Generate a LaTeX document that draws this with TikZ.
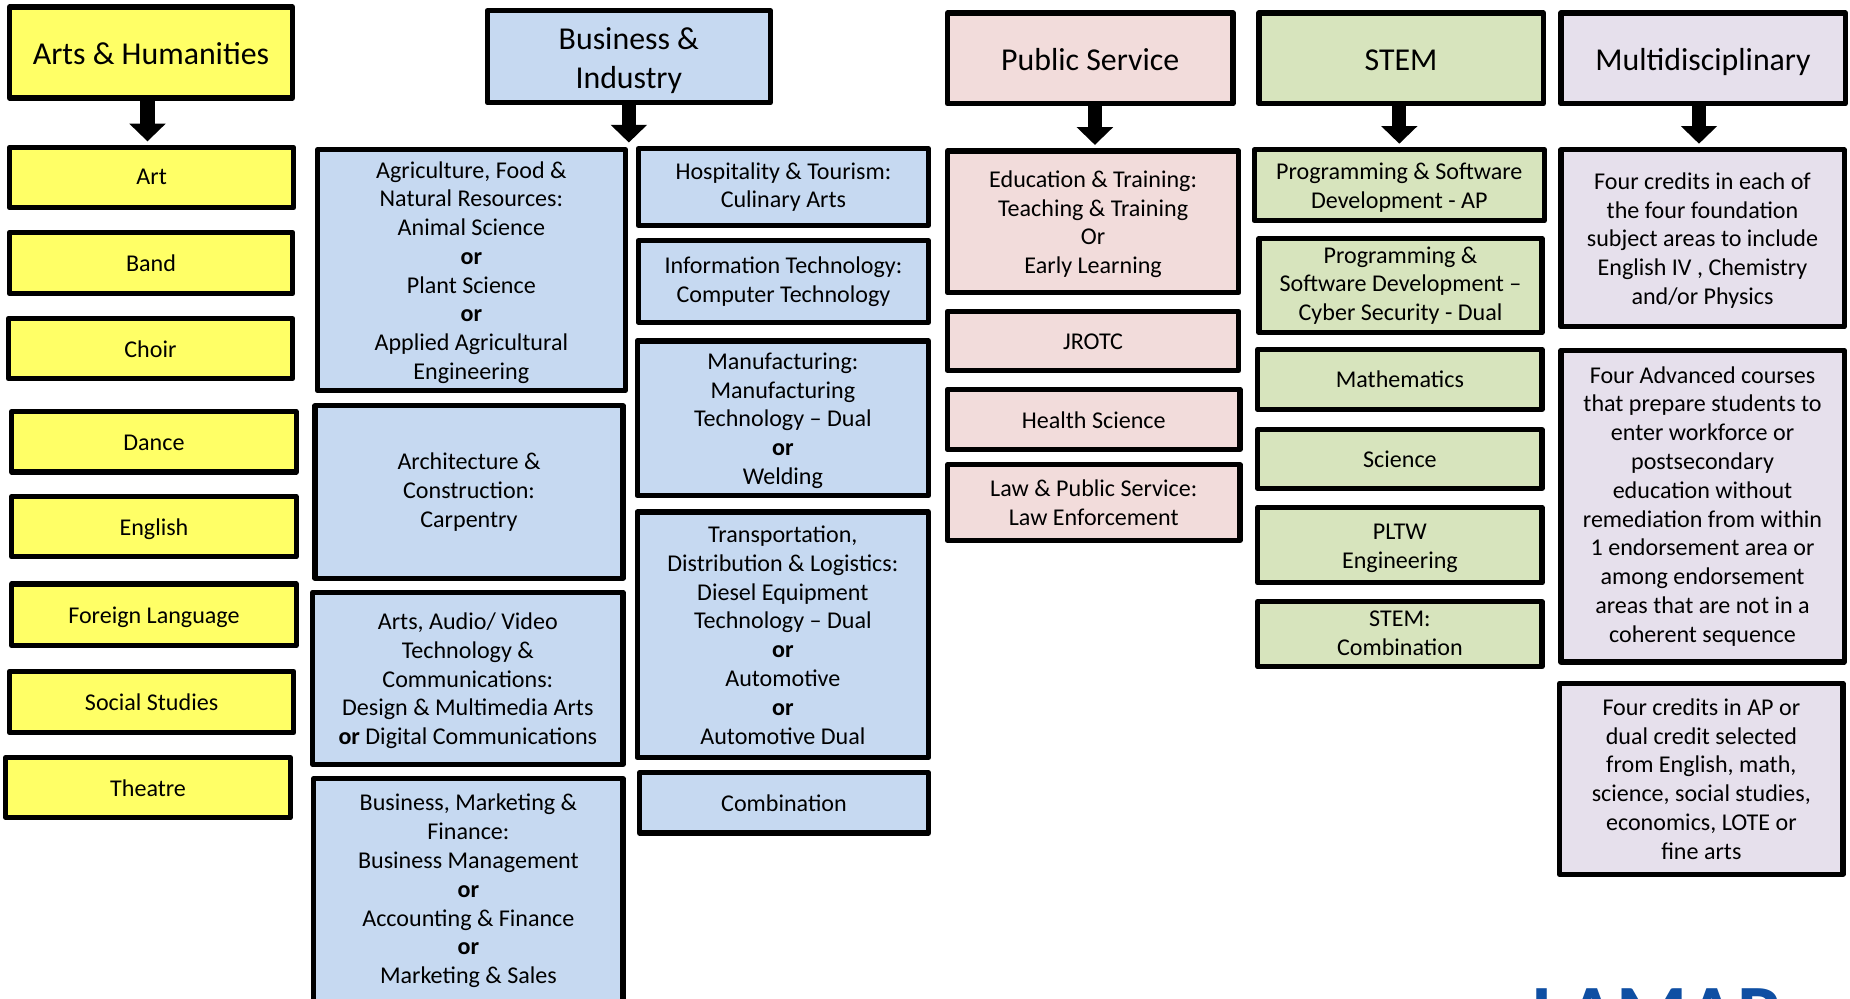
\documentclass[tikz,border=0pt]{standalone}
\usepackage{fontspec}
\setmainfont{Carlito}
\usetikzlibrary{arrows.meta,calc}
\definecolor{cy}{HTML}{FFFF66}
\definecolor{cb}{HTML}{C6D9F1}
\definecolor{cp}{HTML}{F2DCDB}
\definecolor{cg}{HTML}{D7E4BD}
\definecolor{cv}{HTML}{E6E0EC}
\definecolor{logoblue}{HTML}{0F4FA3}
\tikzset{
  bx/.style={draw=black,line width=4.4pt,line join=round,inner sep=0pt,text=black,font=\fontsize{20.4}{24.4}\selectfont\def\bxshift{-2.4pt}},
  hd/.style={font=\fontsize{27}{33}\selectfont\def\bxshift{-3.8pt}},
  low/.style={font=\fontsize{20.4}{24.4}\selectfont\def\bxshift{-0.6pt}},
  bigarrow/.style={line width=12pt,draw=black,-{Triangle[width=30pt,length=15pt]},shorten >=3pt}
}
\newcommand{\bx}[8][]{%
  \pgfmathsetmacro{\bxw}{#6-#4}\pgfmathsetmacro{\bxh}{#7-#5}%
  \pgfmathsetmacro{\bxcx}{(#4+#6)/2}\pgfmathsetmacro{\bxcy}{(#5+#7)/2}%
  \node[bx,#1,fill=#3,minimum width=\bxw pt,minimum height=\bxh pt] (#2) at (\bxcx,\bxcy)
    {\raisebox{\bxshift}[\height][\depth]{\begin{tabular}{@{}c@{}}#8\end{tabular}}};}
\newcommand{\bor}{\textbf{or}}
\begin{document}
\begin{tikzpicture}[x=1pt,y=-1pt]
\clip (0,0) rectangle (1568,846);
% Arts & Humanities
\bx[hd]{artsh}{cy}{8}{6}{248}{83}{Arts \& Humanities}
\bx[low]{art}{cy}{8}{125}{249}{176}{Art}
\bx{band}{cy}{8}{197}{248}{249}{Band}
\bx{choir}{cy}{7}{270}{248}{321}{Choir}
\bx{dance}{cy}{10}{349}{251}{400}{Dance}
\bx{english}{cy}{10}{421}{251}{472}{English}
\bx{foreign}{cy}{10}{495}{251}{547}{Foreign Language}
\bx{social}{cy}{8}{569}{249}{621}{Social Studies}
\bx{theatre}{cy}{5}{642}{246}{693}{Theatre}
% Business & Industry
\bx[hd]{bush}{cb}{413}{9}{653}{87}{Business \&\\Industry}
\bx{agri}{cb}{269}{127}{530}{331}{Agriculture, Food \&\\Natural Resources:\\Animal Science\\\bor\\Plant Science\\\bor\\Applied Agricultural\\Engineering}
\bx[low]{arch}{cb}{267}{344}{528}{490}{Architecture \&\\Construction:\\Carpentry}
\bx{av}{cb}{265}{502}{528}{648}{Arts, Audio/ Video\\Technology \&\\Communications:\\Design \& Multimedia Arts\\\bor{} Digital Communications}
\bx[low]{bmf}{cb}{266}{660}{528}{850}{Business, Marketing \&\\Finance:\\Business Management\\\bor\\Accounting \& Finance\\\bor\\Marketing \& Sales}
\bx[low]{hosp}{cb}{541}{126}{787}{191}{Hospitality \& Tourism:\\Culinary Arts}
\bx[low]{it}{cb}{541}{204}{787}{273}{Information Technology:\\Computer Technology}
\bx{manu}{cb}{540}{289}{787}{420}{Manufacturing:\\Manufacturing\\Technology – Dual\\\bor\\Welding}
\bx{trans}{cb}{540}{434}{787}{642}{Transportation,\\Distribution \& Logistics:\\Diesel Equipment\\Technology – Dual\\\bor\\Automotive\\\bor\\Automotive Dual}
\bx{combo}{cb}{542}{655}{787}{706}{Combination}
% Public Service
\bx[hd]{pubh}{cp}{803}{11}{1045}{88}{Public Service}
\bx{edu}{cp}{803}{128}{1050}{248}{Education \& Training:\\Teaching \& Training\\Or\\Early Learning}
\bx{jrotc}{cp}{803}{264}{1050}{314}{JROTC}
\bx{health}{cp}{803}{330}{1051}{381}{Health Science}
\bx{law}{cp}{803}{394}{1051}{458}{Law \& Public Service:\\Law Enforcement}
% STEM
\bx[hd]{stemh}{cg}{1067}{11}{1308}{88}{STEM}
\bx{prog}{cg}{1063}{127}{1309}{187}{Programming \& Software\\Development - AP}
\bx[low]{cyber}{cg}{1067}{202}{1307}{282}{Programming \&\\Software Development –\\Cyber Security - Dual}
\bx{math}{cg}{1066}{296}{1307}{347}{Mathematics}
\bx{science}{cg}{1066}{364}{1307}{414}{Science}
\bx{pltw}{cg}{1066}{430}{1307}{494}{PLTW\\Engineering}
\bx[low]{stemc}{cg}{1066}{510}{1307}{565}{STEM:\\Combination}
% Multidisciplinary
\bx[hd]{multih}{cv}{1323}{11}{1564}{88}{Multidisciplinary}
\bx{four}{cv}{1323}{127}{1563}{277}{Four credits in each of\\the four foundation\\subject areas to include\\English IV , Chemistry\\and/or Physics}
\bx[low]{adv}{cv}{1323}{297}{1563}{561}{Four Advanced courses\\that prepare students to\\enter workforce or\\postsecondary\\education without\\remediation from within\\1 endorsement area or\\among endorsement\\areas that are not in a\\coherent sequence}
\bx{ap}{cv}{1322}{579}{1562}{741}{Four credits in AP or\\dual credit selected\\from English, math,\\science, social studies,\\economics, LOTE or\\fine arts}
% Arrows
\coordinate (xa) at (125,100);
\coordinate (xb) at (533,100);
\coordinate (xc) at (928,100);
\coordinate (xd) at (1186,100);
\coordinate (xe) at (1440,100);
\draw[bigarrow] (artsh.south -| xa) -- (art.north -| xa);
\draw[bigarrow] (bush.south -| xb) -- (hosp.north -| xb);
\draw[bigarrow] (pubh.south -| xc) -- (edu.north -| xc);
\draw[bigarrow] (stemh.south -| xd) -- (prog.north -| xd);
\draw[bigarrow] (multih.south -| xe) -- (four.north -| xe);
% Logo
\node[anchor=north west,inner sep=0pt,text=logoblue,font=\fontsize{69}{69}\selectfont\bfseries] (logo) at (1299,838) {LAMAR};
\end{tikzpicture}
\end{document}
